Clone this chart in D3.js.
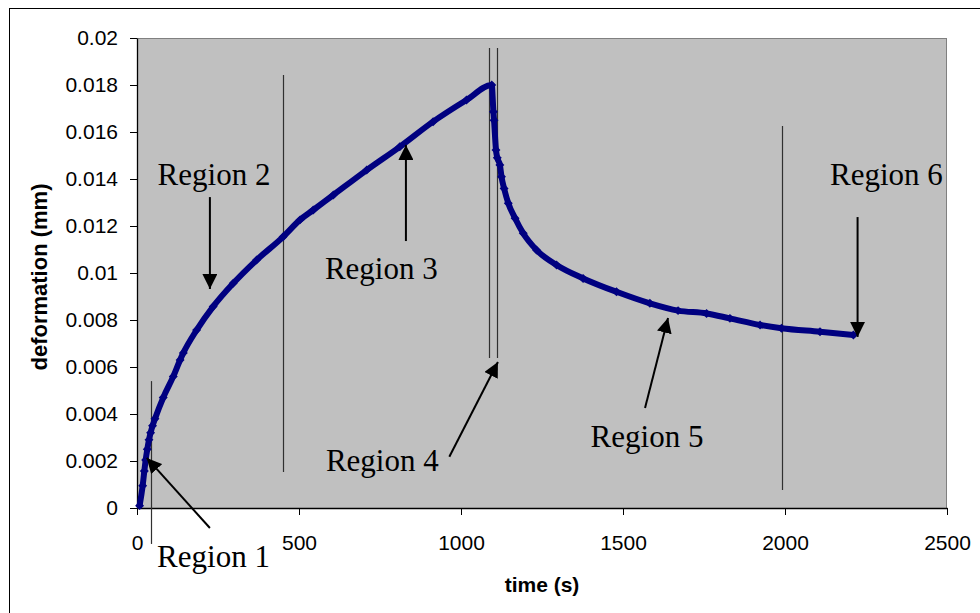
<!DOCTYPE html>
<html>
<head>
<meta charset="utf-8">
<script src="https://cdn.jsdelivr.net/npm/d3@7"></script>
<style>
  html, body { margin: 0; padding: 0; background: #fff; }
  svg { display: block; }
</style>
</head>
<body>
<svg id="chart" width="980" height="613"></svg>
<script>
// ---- data ----
const timeS = [8, 17.5, 22.6, 26.7, 31.8, 37, 42, 48, 55.5, 81, 112, 133, 143, 184, 235, 297, 369, 451, 503, 544, 606, 709, 811, 914, 1017, 1095, 1100, 1102, 1108, 1112, 1120, 1125, 1133, 1146, 1167, 1192, 1233, 1295, 1377, 1480, 1583, 1670, 1758, 1830, 1923, 1989, 2108, 2211];
const deformationMm = [0.0001, 0.00095, 0.00157, 0.00204, 0.0025, 0.0029, 0.0032, 0.0035, 0.0038, 0.0047, 0.0056, 0.0063, 0.0066, 0.00757, 0.00857, 0.00956, 0.01055, 0.01154, 0.01226, 0.01268, 0.01332, 0.01438, 0.01537, 0.01644, 0.01736, 0.018, 0.01686, 0.0165, 0.01523, 0.0149, 0.0146, 0.0141, 0.0136, 0.01297, 0.01233, 0.01169, 0.01098, 0.01034, 0.00977, 0.0092, 0.00871, 0.0084, 0.00828, 0.00807, 0.00779, 0.00765, 0.0075, 0.00736];

const xTickValues = [0, 500, 1000, 1500, 2000, 2500];
const xTickLabels = ["0", "500", "1000", "1500", "2000", "2500"];
const yTickValues = [0, 0.002, 0.004, 0.006, 0.008, 0.01, 0.012, 0.014, 0.016, 0.018, 0.02];
const yTickLabels = ["0", "0.002", "0.004", "0.006", "0.008", "0.01", "0.012", "0.014", "0.016", "0.018", "0.02"];

const xTitle = "time (s)";
const yTitle = "deformation (mm)";

// region boundary lines: [time, fromValue, toValue]
const boundaryTime = [42.3, 449.6, 1087, 1110, 1989.5];
const boundaryFrom = [-0.00153, 0.00153, 0.00638, 0.00638, 0.00077];
const boundaryTo = [0.0054, 0.01843, 0.01957, 0.01957, 0.01626];

// region labels and arrows (data units)
const regionNames = ["Region 1", "Region 2", "Region 3", "Region 4", "Region 5", "Region 6"];
const labelTime = [62, 63.6, 580, 583, 1400, 2139];
const labelValue = [-0.00252, 0.01374, 0.00973, 0.00159, 0.00258, 0.01374];
const arrowFromTime = [225, 225, 830, 964, 1568, 2224];
const arrowFromValue = [-0.00085, 0.01323, 0.01136, 0.00218, 0.00426, 0.01238];
const arrowToTime = [30, 225, 830, 1114, 1639, 2224];
const arrowToValue = [0.00213, 0.00932, 0.01545, 0.00621, 0.00809, 0.00728];

// ---- drawing ----
const svg = d3.select("#chart");
const x = d3.scaleLinear().domain([0, 2500]).range([137, 947]);
const y = d3.scaleLinear().domain([0, 0.02]).range([508, 38]);

// outer frame
svg.append("rect").attr("x", 9.5).attr("y", 8.5).attr("width", 1000).attr("height", 700)
  .attr("fill", "none").attr("stroke", "#000").attr("stroke-width", 1);

// plot area
svg.append("rect")
  .attr("x", x(0)).attr("y", y(0.02))
  .attr("width", x(2500) - x(0)).attr("height", y(0) - y(0.02))
  .attr("fill", "#C0C0C0");
svg.append("line").attr("x1", x(0)).attr("x2", x(2500)).attr("y1", y(0.02) + 0.5).attr("y2", y(0.02) + 0.5)
  .attr("stroke", "#808080").attr("stroke-width", 1);
svg.append("line").attr("x1", x(2500) - 0.5).attr("x2", x(2500) - 0.5).attr("y1", y(0.02)).attr("y2", y(0))
  .attr("stroke", "#808080").attr("stroke-width", 1);

// axes
const xAxis = d3.axisBottom(x).tickValues(xTickValues)
  .tickFormat((d, i) => xTickLabels[i]).tickSize(7).tickSizeOuter(0).tickPadding(20);
const yAxis = d3.axisLeft(y).tickValues(yTickValues)
  .tickFormat((d, i) => yTickLabels[i]).tickSize(7).tickSizeOuter(0).tickPadding(12);

const gx = svg.append("g").attr("transform", `translate(0,${y(0)})`).call(xAxis);
const gy = svg.append("g").attr("transform", `translate(${x(0)},0)`).call(yAxis);
[gx, gy].forEach(g => {
  g.selectAll("path").attr("stroke", "#000").attr("stroke-width", 1.3);
  g.selectAll("line").attr("stroke", "#000").attr("stroke-width", 1);
  g.selectAll("text").attr("font-family", "Liberation Sans, Arial, sans-serif")
    .attr("font-size", 21).attr("fill", "#000");
});

// axis titles
svg.append("text").attr("x", 542).attr("y", 592).attr("text-anchor", "middle")
  .attr("font-family", "Liberation Sans, Arial, sans-serif").attr("font-weight", "bold")
  .attr("font-size", 21).text(xTitle);
svg.append("text").attr("transform", "translate(47,277) rotate(-90)").attr("text-anchor", "middle")
  .attr("font-family", "Liberation Sans, Arial, sans-serif").attr("font-weight", "bold")
  .attr("font-size", 22).text(yTitle);

// boundary lines
svg.append("g").selectAll("line").data(boundaryTime).join("line")
  .attr("x1", d => Math.round(x(d)) + 0.5).attr("x2", d => Math.round(x(d)) + 0.5)
  .attr("y1", (d, i) => y(boundaryFrom[i])).attr("y2", (d, i) => y(boundaryTo[i]))
  .attr("stroke", "#303030").attr("stroke-width", 1.2);

// data series
const pts = timeS.map((t, i) => [t, deformationMm[i]]);
svg.append("path").datum(pts)
  .attr("d", d3.line().x(d => x(d[0])).y(d => y(d[1])).curve(d3.curveMonotoneX))
  .attr("fill", "none").attr("stroke", "#000080").attr("stroke-width", 6)
  .attr("stroke-linejoin", "round").attr("stroke-linecap", "round");
const diamond = d3.symbol().type(d3.symbolSquare).size(40);
svg.append("g").selectAll("path").data(pts).join("path")
  .attr("d", diamond)
  .attr("transform", d => `translate(${x(d[0])},${y(d[1])}) rotate(45)`)
  .attr("fill", "#000080");

// arrows
const defs = svg.append("defs");
defs.append("marker").attr("id", "head").attr("viewBox", "0 0 10 10")
  .attr("refX", 10).attr("refY", 5).attr("markerWidth", 15).attr("markerHeight", 15)
  .attr("markerUnits", "userSpaceOnUse").attr("orient", "auto")
  .append("path").attr("d", "M0,0L10,5L0,10Z").attr("fill", "#000");
svg.append("g").selectAll("line").data(regionNames).join("line")
  .attr("x1", (d, i) => x(arrowFromTime[i])).attr("y1", (d, i) => y(arrowFromValue[i]))
  .attr("x2", (d, i) => x(arrowToTime[i])).attr("y2", (d, i) => y(arrowToValue[i]))
  .attr("stroke", "#000").attr("stroke-width", 2).attr("marker-end", "url(#head)");

// region labels
svg.append("g").selectAll("text").data(regionNames).join("text")
  .attr("x", (d, i) => x(labelTime[i])).attr("y", (d, i) => y(labelValue[i]))
  .attr("font-family", "Liberation Serif, Times New Roman, serif")
  .attr("font-size", 31).attr("fill", "#000").text(d => d);
</script>
</body>
</html>
